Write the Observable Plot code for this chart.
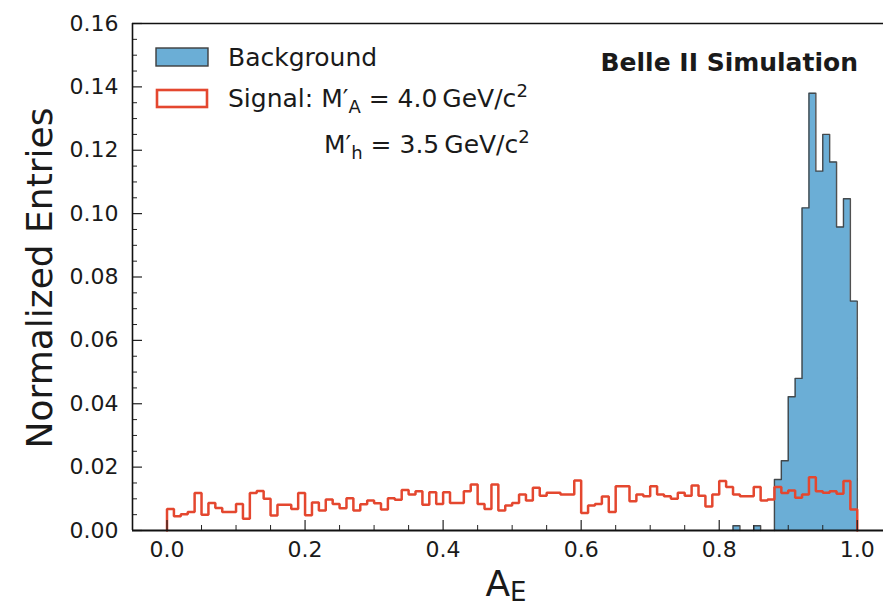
<!DOCTYPE html>
<html><head><meta charset="utf-8">
<script src="https://cdn.jsdelivr.net/npm/d3@7"></script>
<script src="https://cdn.jsdelivr.net/npm/@observablehq/plot@0.6"></script>
<style>body{margin:0;background:#fff;} svg{display:block}</style>
</head><body><div id="chart"></div>
<script>
// ---- data ----
const binWidth = 0.01;
const signalValues = [
  0.0068,0.0045,0.0051,0.0058,0.0118,0.0050,0.0087,0.0071,0.0058,0.0058,
  0.0084,0.0037,0.0118,0.0125,0.0100,0.0047,0.0081,0.0081,0.0068,0.0118,
  0.0048,0.0088,0.0063,0.0098,0.0084,0.0070,0.0102,0.0063,0.0083,0.0095,
  0.0086,0.0066,0.0102,0.0097,0.0128,0.0114,0.0124,0.0081,0.0121,0.0084,
  0.0121,0.0087,0.0087,0.0124,0.0145,0.0084,0.0068,0.0145,0.0063,0.0079,
  0.0087,0.0114,0.0095,0.0135,0.0110,0.0119,0.0119,0.0114,0.0114,0.0158,
  0.0055,0.0079,0.0084,0.0107,0.0058,0.0140,0.0140,0.0092,0.0114,0.0108,
  0.0140,0.0114,0.0108,0.0100,0.0119,0.0110,0.0142,0.0110,0.0076,0.0114,
  0.0156,0.0137,0.0114,0.0108,0.0108,0.0137,0.0095,0.0098,0.0137,0.0118,
  0.0126,0.0103,0.0114,0.0168,0.0124,0.0119,0.0124,0.0116,0.0156,0.0066
];
const signalBins = signalValues.map((_, i) => +(i * binWidth).toFixed(2));
const bgBins   = [0.82, 0.85, 0.88, 0.89, 0.90, 0.91, 0.92, 0.93, 0.94, 0.95, 0.96, 0.97, 0.98, 0.99];
const bgValues = [0.0015,0.0015,0.0161,0.0220,0.0422,0.0480,0.1018,0.1380,0.1134,0.1250,0.1163,0.0958,0.1047,0.0724];
const xMajor = [0, 0.2, 0.4, 0.6, 0.8, 1.0];
const xMinor = [0.05,0.1,0.15,0.25,0.3,0.35,0.45,0.5,0.55,0.65,0.7,0.75,0.85,0.9,0.95];
const yMajor = [0, 0.02, 0.04, 0.06, 0.08, 0.10, 0.12, 0.14, 0.16];
const yMinor = [0.005,0.01,0.015,0.025,0.03,0.035,0.045,0.05,0.055,0.065,0.07,0.075,0.085,0.09,0.095,0.105,0.11,0.115,0.125,0.13,0.135,0.145,0.15,0.155];

const bgColor = "#6baed6", bgEdge = "#3d3d3d", sigColor = "#e4472f";

// step outline points, split into contiguous runs
function stepPoints(lefts, vals, w) {
  const pts = []; let run = 0;
  lefts.forEach((x0, i) => {
    const contiguous = i > 0 && Math.abs(lefts[i-1] + w - x0) < 1e-9;
    if (!contiguous) { if (i > 0) { pts.push({x: lefts[i-1] + w, y: 0, run}); run++; } pts.push({x: x0, y: 0, run}); }
    pts.push({x: x0, y: vals[i], run}, {x: x0 + w, y: vals[i], run});
  });
  pts.push({x: lefts[lefts.length-1] + w, y: 0, run});
  return pts;
}
const bgPts = stepPoints(bgBins, bgValues, binWidth);
const sigPts = stepPoints(signalBins, signalValues, binWidth);

const W = 883, H = 607, mL = 132, mR = 0, mT = 23, mB = 77;
const frameW = W - mL - mR, frameH = H - mT - mB;

const plot = Plot.plot({
  width: W, height: H,
  marginLeft: mL, marginRight: mR, marginTop: mT, marginBottom: mB,
  style: {fontFamily: "DejaVu Sans", color: "#1a1a1a", background: "#fff"},
  x: {domain: [-0.05, 1.038]},
  y: {domain: [0, 0.16]},
  marks: [
    Plot.area(bgPts, {x1: "x", y1: 0, y2: "y", z: "run", fill: bgColor, curve: "linear"}),
    Plot.line(bgPts, {x: "x", y: "y", z: "run", stroke: bgEdge, strokeWidth: 1.4, strokeOpacity: 0.9}),
    Plot.line(sigPts, {x: "x", y: "y", z: "run", stroke: sigColor, strokeWidth: 2.5, strokeLinejoin: "miter"}),
    Plot.tickX(xMajor, {x: d => d, insetTop: frameH - 10, stroke: "#222", strokeWidth: 1.2}),
    Plot.tickX(xMinor, {x: d => d, insetTop: frameH - 5, stroke: "#222", strokeWidth: 1}),
    Plot.tickY(yMajor, {y: d => d, insetRight: frameW - 10, stroke: "#222", strokeWidth: 1.2}),
    Plot.tickY(yMinor, {y: d => d, insetRight: frameW - 5, stroke: "#222", strokeWidth: 1}),
    Plot.ruleY([0], {stroke: "#111", strokeWidth: 1.8}),
    Plot.ruleY([0.16], {stroke: "#111", strokeWidth: 1.5}),
    Plot.ruleX([-0.05], {stroke: "#111", strokeWidth: 1.6}),
    Plot.axisX({ticks: xMajor, tickFormat: d3.format(".1f"), tickSize: 0, tickPadding: 11, fontSize: 22, label: null}),
    Plot.axisY({ticks: yMajor, tickFormat: d3.format(".2f"), tickSize: 0, tickPadding: 14, fontSize: 22, label: null})
  ]
});
document.getElementById("chart").appendChild(plot);

// ---- annotations, axis titles and legend ----
const svg = d3.select(plot);
const g = svg.append("g").attr("font-family", "DejaVu Sans").attr("fill", "#1a1a1a").attr("text-anchor", "start");

// y axis title
g.append("text").attr("transform", "translate(52,278) rotate(-90)").attr("text-anchor", "middle")
  .attr("font-size", 36).text("Normalized Entries");
// x axis title A_E
const xt = g.append("text").attr("x", 506).attr("y", 596).attr("text-anchor", "middle").attr("font-size", 36);
xt.append("tspan").text("A");
xt.append("tspan").attr("font-size", 26).attr("dy", 5).text("E");

// experiment label
g.append("text").attr("x", 858).attr("y", 71).attr("text-anchor", "end")
  .attr("font-size", 25).attr("font-weight", "bold").text("Belle II Simulation");

// legend
g.append("rect").attr("x", 156).attr("y", 48).attr("width", 52).attr("height", 18)
  .attr("fill", bgColor).attr("stroke", bgEdge).attr("stroke-width", 1.4);
g.append("rect").attr("x", 157).attr("y", 90).attr("width", 50).attr("height", 17)
  .attr("fill", "none").attr("stroke", sigColor).attr("stroke-width", 2.6);
g.append("text").attr("x", 228).attr("y", 66).attr("font-size", 25).text("Background");

function massLine(x, y, prefix, sub, value) {
  const t = g.append("text").attr("x", x).attr("y", y).attr("font-size", 25).attr("text-anchor", "start");
  if (prefix) t.append("tspan").text(prefix);
  t.append("tspan").text("M\u2032");
  t.append("tspan").attr("font-size", 18).attr("dy", 6).text(sub);
  t.append("tspan").attr("dy", -6).text(" = " + value + "\u2009GeV/c");
  t.append("tspan").attr("font-size", 18).attr("dy", -10).text("2");
}
massLine(228, 107, "Signal: ", "A", "4.0");
massLine(324, 153, null, "h", "3.5");
</script>
</body></html>
